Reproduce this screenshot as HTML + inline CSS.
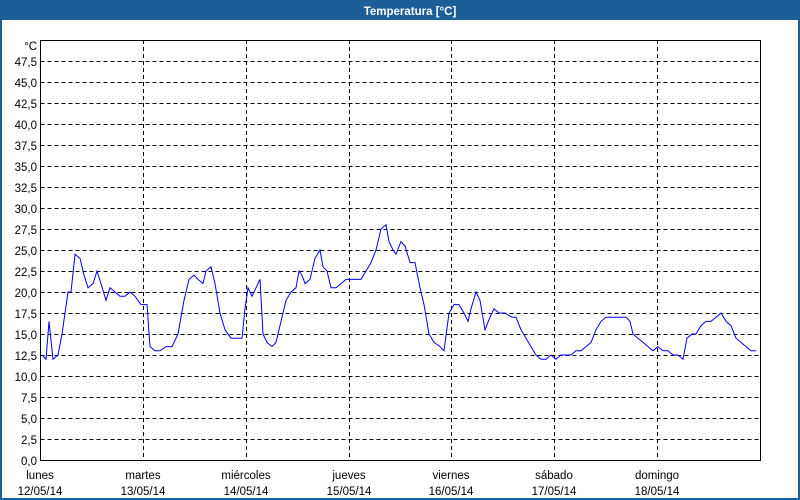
<!DOCTYPE html>
<html><head><meta charset="utf-8"><style>
body{margin:0;background:#fff}
svg{display:block;font-family:"Liberation Sans","DejaVu Sans",sans-serif;font-size:11.5px}
</style></head><body>
<svg width="800" height="500" xmlns="http://www.w3.org/2000/svg">
<rect x="0" y="0" width="800" height="500" fill="#1c5e98"/>
<rect x="2" y="20" width="796" height="478" fill="#fff"/>
<text x="410" y="15" fill="#fff" font-weight="bold" text-anchor="middle" font-size="11.5">Temperatura [°C]</text>
<g stroke="#000" stroke-width="1" stroke-dasharray="4,3" fill="none">
<path d="M40.5 439.5H760.5M40.5 418.5H760.5M40.5 397.5H760.5M40.5 376.5H760.5M40.5 355.5H760.5M40.5 334.5H760.5M40.5 313.5H760.5M40.5 292.5H760.5M40.5 271.5H760.5M40.5 250.5H760.5M40.5 229.5H760.5M40.5 208.5H760.5M40.5 187.5H760.5M40.5 166.5H760.5M40.5 145.5H760.5M40.5 124.5H760.5M40.5 103.5H760.5M40.5 82.5H760.5M40.5 61.5H760.5"/>
<path d="M143.5 40V460M246.5 40V460M349.5 40V460M451.5 40V460M554.5 40V460M657.5 40V460"/>
</g>
<rect x="40.5" y="40.5" width="720" height="420" fill="none" stroke="#000"/>
<g text-anchor="end" fill="#000">
<text x="37" y="465">0,0</text><text x="37" y="444">2,5</text><text x="37" y="423">5,0</text><text x="37" y="402">7,5</text><text x="37" y="381">10,0</text><text x="37" y="360">12,5</text><text x="37" y="339">15,0</text><text x="37" y="318">17,5</text><text x="37" y="297">20,0</text><text x="37" y="276">22,5</text><text x="37" y="255">25,0</text><text x="37" y="234">27,5</text><text x="37" y="213">30,0</text><text x="37" y="192">32,5</text><text x="37" y="171">35,0</text><text x="37" y="150">37,5</text><text x="37" y="129">40,0</text><text x="37" y="108">42,5</text><text x="37" y="87">45,0</text><text x="37" y="66">47,5</text><text x="37" y="50">°C</text>
</g>
<g text-anchor="middle" fill="#000">
<text x="40" y="479">lunes</text><text x="40" y="495">12/05/14</text>
<text x="143" y="479">martes</text><text x="143" y="495">13/05/14</text>
<text x="246" y="479">miércoles</text><text x="246" y="495">14/05/14</text>
<text x="349" y="479">jueves</text><text x="349" y="495">15/05/14</text>
<text x="451" y="479">viernes</text><text x="451" y="495">16/05/14</text>
<text x="554" y="479">sábado</text><text x="554" y="495">17/05/14</text>
<text x="657" y="479">domingo</text><text x="657" y="495">18/05/14</text>
</g>
<polyline transform="translate(0,460) scale(1,-8.4)" vector-effect="non-scaling-stroke" fill="none" stroke="#0000ff" stroke-width="1" points="42,12.5 46,12 49,16.5 53,12 58,12.5 62,15 68,20 71,20 75,24.5 80,24 84,22 88,20.5 93,21 97,22.5 101,21 106,19 110,20.5 115,20 120,19.5 125,19.5 130,20 135,19.5 141,18.5 147,18.5 150,13.5 155,13 160,13 166,13.5 172,13.5 178,15 184,19 189,21.5 194,22 198,21.5 203,21 206,22.5 211,23 215,21 220,17.5 225,15.5 231,14.5 238,14.5 242,14.5 245,18 248,20.5 252,19.5 256,20.5 260,21.5 263,15 267,14 272,13.5 276,14 281,16.5 286,19 291,20 296,20.5 299,22.5 302,22 305,21 310,21.5 315,24 320,25 323,23 327,22.5 331,20.5 336,20.5 341,21 346,21.5 351,21.5 356,21.5 361,21.5 366,22.5 371,23.5 376,25 381,27.5 386,28 389,26 393,25 396,24.5 401,26 405,25.5 410,23.5 415,23.5 420,20.5 424,18.5 429,15 434,14 440,13.5 444,13 449,17.5 454,18.5 459,18.5 464,17.5 468,16.5 471,18 476,20 480,19 485,15.5 490,17 494,18 499,17.5 505,17.5 512,17 516,17 521,15.5 526,14.5 531,13.5 536,12.5 541,12 546,12 551,12.5 556,12 561,12.5 566,12.5 571,12.5 576,13 581,13 586,13.5 591,14 596,15.5 601,16.5 606,17 611,17 616,17 621,17 626,17 630,16.5 633,15 638,14.5 643,14 648,13.5 653,13 658,13.5 663,13 668,13 673,12.5 678,12.5 683,12 687,14.5 692,15 696,15 701,16 706,16.5 711,16.5 716,17 721,17.5 726,16.5 731,16 736,14.5 741,14 746,13.5 751,13 756,13"/>
</svg>
</body></html>
